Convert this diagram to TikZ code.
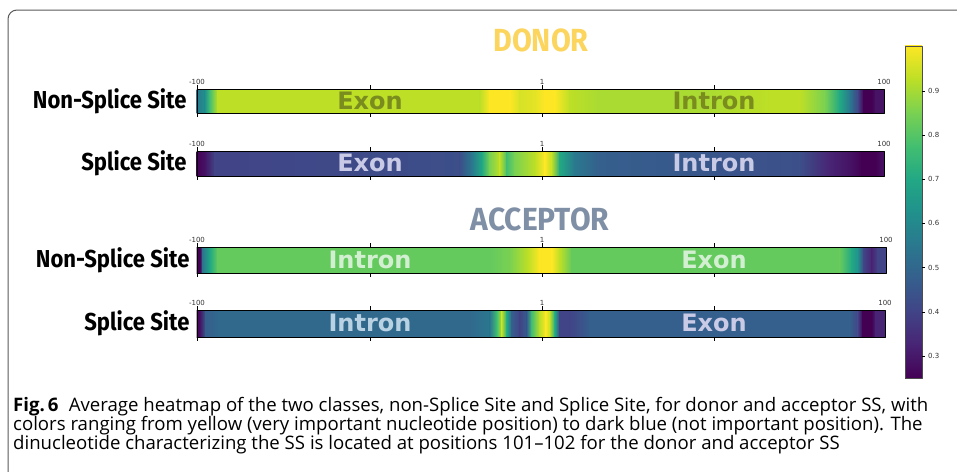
\documentclass[tikz,border=0pt]{standalone}
\usepackage{fontspec}
\setmainfont{Open Sans}
\newfontfamily\headfont[FakeStretch=0.9]{Fira Sans}
\newfontfamily\wordfont{DejaVu Sans}
\usetikzlibrary{positioning}
% viridis
\definecolor{v0}{HTML}{440154}
\definecolor{v1}{HTML}{482475}
\definecolor{v2}{HTML}{414487}
\definecolor{v3}{HTML}{355F8D}
\definecolor{v4}{HTML}{2A788E}
\definecolor{v5}{HTML}{21918C}
\definecolor{v6}{HTML}{22A884}
\definecolor{v7}{HTML}{44BF70}
\definecolor{v8}{HTML}{7AD151}
\definecolor{v9}{HTML}{BDDF26}
\definecolor{v10}{HTML}{FDE725}
\definecolor{donorc}{HTML}{FBD55E}
\definecolor{accc}{HTML}{7F8FA6}
\definecolor{olivew}{HTML}{7A8C1E}
\definecolor{lavw}{HTML}{C9CAE6}
\definecolor{mintw}{HTML}{D3EFD2}
\definecolor{skyw}{HTML}{B9D2E3}
% one heat bar: top, height, right end, first colour, stops x/colour
\newcommand{\heatbar}[5]{%
  \foreach \x/\c [remember=\x as \lx (initially 197), remember=\c as \lc (initially #4)] in {#5}
    \shade[left color=\lc, right color=\c] (\lx-.3,#1) rectangle (\x,#1+#2);
  \draw[line width=.6pt] (197,#1) rectangle (#3,#1+#2);
  \foreach \t in {197,370,542,714}
    \draw[line width=.4pt] (\t,#1-4) -- (\t,#1) (\t,#1+#2) -- (\t,#1+#2+4);
}
\begin{document}
\begin{tikzpicture}[x=1pt, y=-1pt, line join=round,
    side/.style={anchor=east, font=\headfont\bfseries\fontsize{24.5}{24.5}\selectfont},
    word/.style={font=\wordfont\bfseries\fontsize{24}{24}\selectfont},
    title/.style={font=\headfont\bfseries\fontsize{32}{32}\selectfont},
    ticklab/.style={font=\wordfont\fontsize{7}{7}\selectfont, text=black!80, inner sep=1pt},
    captext/.style={anchor=base west, inner sep=0pt, font=\fontsize{18.6}{19}\selectfont}]
    \useasboundingbox (0,0) rectangle (957,471);
    \draw[black!65, line width=1pt, rounded corners=9pt] (8,475) -- (8,10) -- (960,10);
    % titles
    \node[title, text=donorc] (donor) at (541,40) {DONOR};
    \node[title, text=accc, xscale=1.04] (acceptor) at (540,219) {ACCEPTOR};
    % donor bars
    \heatbar{89}{24}{884}{v4}{205/v5,210/v7,218/v9,480/v9,490/v10,510/v10,520/v9!60!v10,535/v9!40!v10,545/v10,555/v10,570/v9,600/v8!30!v9,700/v8!30!v9,770/v9,800/v9,825/v8,840/v6,850/v4,858/v2,864/v0,872/v0,876/v0!50!v1,884/v0!50!v1}
    \heatbar{151}{25}{884}{v0}{205/v0!50!v1,215/v2,460/v2!60!v3,472/v4,482/v6,490/v8,500/v9,507/v7,515/v8,535/v9,545/v10,552/v9,560/v6,575/v4,600/v3,800/v2!60!v3,830/v1,850/v0!50!v1,862/v0,876/v0,884/v0!50!v1}
    % acceptor bars
    \heatbar{247}{26}{886}{v0}{200/v0,203/v4,210/v6,218/v7!40!v8,490/v7!40!v8,510/v8,528/v9,540/v10,552/v10,560/v9,572/v7!40!v8,840/v7!40!v8,852/v6,858/v5,864/v2,872/v1,878/v2,886/v2}
    \heatbar{310}{27}{885}{v0}{200/v0!50!v1,206/v3,220/v3!60!v4,470/v3!60!v4,490/v4,497/v7,502/v9,507/v6,512/v3,520/v2,527/v3,532/v7,540/v9,546/v10,550/v9,555/v6,560/v2,570/v2,590/v3,850/v3,858/v2,863/v0,872/v0,876/v1,885/v1}
    % tick labels
    \foreach \y/\r [count=\i] in {89/884,151/884,247/886,310/885}{
      \node[ticklab, anchor=south] (lo\i) at (197,\y-3) {-100};
      \node[ticklab, anchor=south] (mid\i) at (542,\y-3) {1};
      \node[ticklab, anchor=south] (hi\i) at (\r,\y-3) {100};
    }
    % row names
    \node[side] (dnss) at (190,101) {Non-Splice Site};
    \node[side] (dss) at (190,163) {Splice Site};
    \node[side] (anss) at (193,260) {Non-Splice Site};
    \node[side] (ass) at (193,323) {Splice Site};
    % region words
    \node[word, text=olivew] (dexon) at (370,101) {Exon};
    \node[word, text=olivew] (dintron) at (714,101) {Intron};
    \node[word, text=lavw] (dexon2) at (370,163) {Exon};
    \node[word, text=lavw] (dintron2) at (714,163) {Intron};
    \node[word, text=mintw] (aintron) at (370,260) {Intron};
    \node[word, text=mintw] (aexon) at (714,260) {Exon};
    \node[word, text=skyw] (aintron2) at (370,323) {Intron};
    \node[word, text=lavw] (aexon2) at (714,323) {Exon};
    % colour bar
    \foreach \i [evaluate=\i as \j using int(\i+1)] in {0,...,9}
      \shade[bottom color=v\i, top color=v\j] (905,{378-33.2*\i}) rectangle (922,{378-33.2*\j-.3});
    \draw[line width=.6pt, black!70] (905,46) rectangle (922,378);
    \foreach \v in {3,...,9}
      \draw[line width=.4pt] (922,{356-(\v-3)*44.2}) -- (925,{356-(\v-3)*44.2})
        node[ticklab, anchor=west, xshift=2pt] (cb\v) {0.\v};
    % caption
    \node[captext] (cap1) at (13,411) {\textbf{Fig.\,6}\hspace{0.55em}Average heatmap of the two classes, non-Splice Site and Splice Site, for donor and acceptor SS, with};
    \node[captext] (cap2) at (13,430) {colors ranging from yellow (very important nucleotide position) to dark blue (not important position). The};
    \node[captext] (cap3) at (13,449) {dinucleotide characterizing the SS is located at positions 101--102 for the donor and acceptor SS};
\end{tikzpicture}
\end{document}
